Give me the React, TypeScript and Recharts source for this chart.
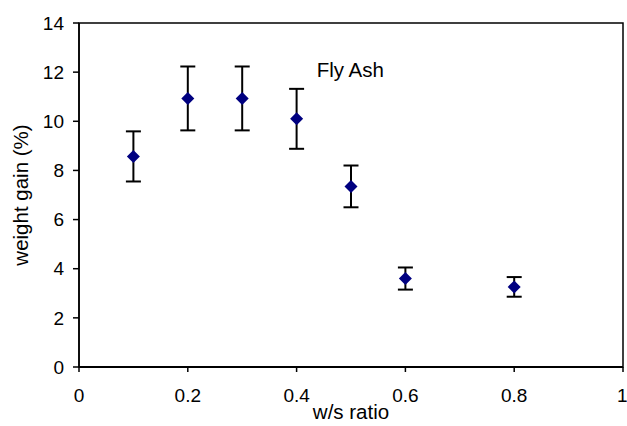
import React from "react";
import {
  ErrorBar,
  ReferenceArea,
  ReferenceDot,
  Scatter,
  ScatterChart,
  XAxis,
  YAxis,
} from "recharts";

const FONT = "'Liberation Sans', Arial, Helvetica, sans-serif";

// water/solids ratio, mean weight gain (%) and its error
const RATIOS = [0.1, 0.2, 0.3, 0.4, 0.5, 0.6, 0.8];
const GAINS = [8.57, 10.93, 10.93, 10.1, 7.35, 3.6, 3.26];
const ERRORS = [1.02, 1.3, 1.3, 1.22, 0.85, 0.45, 0.4];

const X_TICKS = [0, 0.2, 0.4, 0.6, 0.8, 1];
const Y_TICKS = [0, 2, 4, 6, 8, 10, 12, 14];

const data = RATIOS.map((x, i) => ({ x, y: GAINS[i], err: ERRORS[i] }));

const Diamond = (props: any) => {
  const { cx, cy } = props;
  const r = 6.5;
  return (
    <polygon
      points={`${cx},${cy - r} ${cx + r},${cy} ${cx},${cy + r} ${cx - r},${cy}`}
      fill="#000080"
    />
  );
};

const fmtX = (v: number) => (v === 0 || v === 1 ? String(v) : v.toFixed(1));

export default function App() {
  return (
    <div style={{ position: "absolute", left: 0, top: 0, background: "#fff" }}>
      <ScatterChart
        width={627}
        height={426}
        margin={{ top: 23, right: 4, bottom: 0, left: 0 }}
        style={{ fontFamily: FONT }}
      >
        <XAxis
          type="number"
          dataKey="x"
          domain={[0, 1]}
          ticks={X_TICKS}
          tickFormatter={fmtX}
          height={59}
          tickSize={5}
          tickMargin={17}
          axisLine={{ stroke: "#000", strokeWidth: 2 }}
          tickLine={{ stroke: "#000", strokeWidth: 1.5 }}
          tick={{ fill: "#000", fontSize: 19 }}
          label={{
            content: ({ viewBox }: any) => (
              <text
                x={viewBox.x + viewBox.width / 2}
                y={419}
                textAnchor="middle"
                fontSize={20.5}
                fill="#000"
              >
                w/s ratio
              </text>
            ),
          }}
        />
        <YAxis
          type="number"
          dataKey="y"
          domain={[0, 14]}
          ticks={Y_TICKS}
          width={79}
          tickSize={6}
          tickMargin={9}
          axisLine={{ stroke: "#000", strokeWidth: 1.5 }}
          tickLine={{ stroke: "#000", strokeWidth: 1.5 }}
          tick={{ fill: "#000", fontSize: 19 }}
          label={{
            content: ({ viewBox }: any) => {
              const cx = 28;
              const cy = viewBox.y + viewBox.height / 2;
              return (
                <text
                  x={cx}
                  y={cy}
                  transform={`rotate(-90 ${cx} ${cy})`}
                  textAnchor="middle"
                  fontSize={20.5}
                  fill="#000"
                >
                  weight gain (%)
                </text>
              );
            },
          }}
        />
        <ReferenceArea
          x1={0}
          x2={1}
          y1={0}
          y2={14}
          fill="none"
          stroke="#000"
          strokeWidth={1.5}
          ifOverflow="visible"
        />
        <ReferenceDot
          x={0.437}
          y={12.1}
          r={0}
          stroke="none"
          label={{
            value: "Fly Ash",
            position: "right",
            offset: 0,
            fill: "#000",
            fontSize: 20.5,
          }}
        />
        <Scatter data={data} shape={<Diamond />} isAnimationActive={false}>
          <ErrorBar
            dataKey="err"
            direction="y"
            width={7.5}
            stroke="#000"
            strokeWidth={2}
            isAnimationActive={false}
          />
        </Scatter>
      </ScatterChart>
    </div>
  );
}
